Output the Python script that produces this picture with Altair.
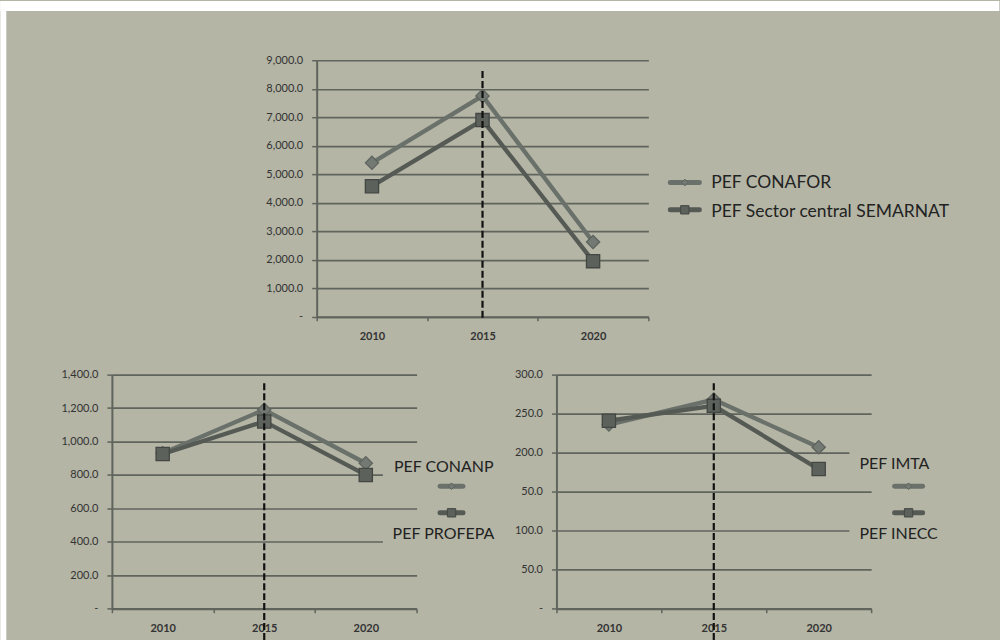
import altair as alt
import pandas as pd

# ---------------- data ----------------
years = ["2010", "2015", "2020"]

top_names = ["PEF CONAFOR", "PEF Sector central SEMARNAT"]
conafor = [5400, 7750, 2620]
semarnat = [4580, 6900, 1950]
top_ticks = [0, 1000, 2000, 3000, 4000, 5000, 6000, 7000, 8000, 9000]

left_names = ["PEF CONANP", "PEF PROFEPA"]
conanp = [930, 1190, 870]
profepa = [925, 1120, 800]
left_ticks = [0, 200, 400, 600, 800, 1000, 1200, 1400]

right_names = ["PEF IMTA", "PEF INECC"]
imta = [236, 268, 207]
inecc = [241, 260, 179]
right_ticks = [0, 50, 100, 150, 200, 250, 300]
right_tick_labels = ["-", "50.0", "100.0", "50.0", "200.0", "250.0", "300.0"]

marker_year = "2015"
dash_top = [8625, 1348, 289]
dash_bottom = [-88, -189, -40.6]

# ---------------- style ----------------
BG = "#b4b5a5"
GRID = "#5f645d"
LABEL = "#333333"
FONT = "Lato"
LINE_COLORS = ["#6a706a", "#555a55"]
FILL_COLORS = ["#737973", "#5c615c"]
STROKE_COLORS = ["#5e635e", "#434743"]
SHAPES = ["diamond", "square"]
SIZES = [175, 175]


def default_label_expr():
    return "datum.value == 0 ? '-' : format(datum.value, ',.1f')"


def list_label_expr(vals, labels):
    v = "[" + ",".join(str(x) for x in vals) + "]"
    l = "[" + ",".join("'" + s + "'" for s in labels) + "]"
    return f"{l}[indexof({v}, datum.value)]"


def make_panel(names, series_vals, ticks, label_expr, dtop, dbot, w, h, legend_layers):
    xscale = alt.Scale(type="band", paddingInner=0, paddingOuter=0, domain=years)
    yscale = alt.Scale(domain=[0, ticks[-1]], nice=False)
    xaxis = alt.Axis(
        title=None, tickBand="extent", labelAngle=0, labelFontWeight="bold",
        labelFontSize=11, labelFont=FONT, labelColor=LABEL, tickSize=4,
        tickWidth=1.5, tickColor=GRID, domainColor=GRID, domainWidth=2,
        grid=False, labelPadding=10,
    )
    yaxis = alt.Axis(
        title=None, values=ticks, labelExpr=label_expr, grid=True,
        gridColor=GRID, gridWidth=1.7, domainColor=GRID, domainWidth=2,
        tickColor=GRID, tickSize=5, tickWidth=1.5, labelFont=FONT,
        labelFontSize=11, labelColor=LABEL, labelPadding=9,
    )
    layers = []
    for i, (name, vals) in enumerate(zip(names, series_vals)):
        df = pd.DataFrame({"year": years, "value": vals, "series": name})
        layers.append(
            alt.Chart(df).mark_line(strokeWidth=4.3, color=LINE_COLORS[i]).encode(
                x=alt.X("year:O", scale=xscale, axis=xaxis, bandPosition=0.5),
                y=alt.Y("value:Q", scale=yscale, axis=yaxis),
            )
        )
    for i, (name, vals) in enumerate(zip(names, series_vals)):
        df = pd.DataFrame({"year": years, "value": vals, "series": name})
        layers.append(
            alt.Chart(df).mark_point(
                shape=SHAPES[i], filled=True, size=SIZES[i], fill=FILL_COLORS[i],
                stroke=STROKE_COLORS[i], strokeWidth=1.3, opacity=1,
            ).encode(
                x=alt.X("year:O", scale=xscale, axis=xaxis, bandPosition=0.5),
                y=alt.Y("value:Q", scale=yscale, axis=yaxis),
            )
        )
    ddf = pd.DataFrame({"year": [marker_year], "top": [dtop], "bottom": [dbot]})
    layers.append(
        alt.Chart(ddf).mark_rule(color="#111111", strokeWidth=2.2, strokeDash=[7, 3], clip=False).encode(
            x=alt.X("year:O", scale=xscale, axis=xaxis, bandPosition=0.5),
            y=alt.Y("top:Q", scale=yscale, axis=yaxis),
            y2="bottom:Q",
        )
    )
    layers.extend(legend_layers)
    return alt.layer(*layers).properties(width=w, height=h)


one = pd.DataFrame({"k": [0]})


def leg_symbol(i, x1, x2, yy, msize):
    cx = (x1 + x2) / 2
    return [
        alt.Chart(one).mark_rule(strokeWidth=5, strokeCap="round", color=LINE_COLORS[i]).encode(
            x=alt.value(x1), x2=alt.value(x2), y=alt.value(yy)
        ),
        alt.Chart(one).mark_point(
            shape=SHAPES[i], filled=True, size=msize, fill=FILL_COLORS[i],
            stroke=STROKE_COLORS[i], strokeWidth=1, opacity=1,
        ).encode(x=alt.value(cx), y=alt.value(yy)),
    ]


def leg_text(label, x, yy, size):
    return alt.Chart(one).mark_text(
        align="left", baseline="middle", font=FONT, fontSize=size, color="#222222"
    ).encode(x=alt.value(x), y=alt.value(yy), text=alt.value(label))


def mask(x1, x2, y1, y2):
    return alt.Chart(one).mark_rect(color=BG).encode(
        x=alt.value(x1), x2=alt.value(x2), y=alt.value(y1), y2=alt.value(y2)
    )


# ---- top panel legend
top_leg = (
    leg_symbol(0, 354, 383, 122.4, 45)
    + leg_symbol(1, 354, 383, 149.7, 70)
    + [leg_text(top_names[0], 395, 122.4, 17.5), leg_text(top_names[1], 395, 151.5, 17.5)]
)
# ---- bottom-left legend
left_leg = (
    [mask(271.3, 306, 80, 105), mask(271.3, 306, 148, 173)]
    + leg_symbol(0, 328.5, 351.5, 111.7, 45)
    + leg_symbol(1, 328.5, 351.5, 138.3, 70)
    + [leg_text(left_names[0], 282.3, 92, 16), leg_text(left_names[1], 281, 160, 16)]
)
# ---- bottom-right legend
right_leg = (
    [mask(293.3, 316, 75, 102), mask(293.3, 316, 147, 173)]
    + leg_symbol(0, 338.5, 366.5, 111.7, 45)
    + leg_symbol(1, 338.5, 366.5, 138.3, 70)
    + [leg_text(right_names[0], 303.3, 89, 16), leg_text(right_names[1], 303.3, 160, 16)]
)

p1 = make_panel(top_names, [conafor, semarnat], top_ticks, default_label_expr(),
                dash_top[0], dash_bottom[0], 332, 256.7, top_leg)
p2 = make_panel(left_names, [conanp, profepa], left_ticks, default_label_expr(),
                dash_top[1], dash_bottom[1], 305, 234.3, left_leg)
p3 = make_panel(right_names, [imta, inecc], right_ticks,
                list_label_expr(right_ticks, right_tick_labels),
                dash_top[2], dash_bottom[2], 315, 234.3, right_leg)

# spacer carrying the white page margin (top strip and left strip)
spacer = alt.layer(
    alt.Chart(one).mark_rect(color="white", clip=False).encode(
        x=alt.value(-111.7), x2=alt.value(888.3), y=alt.value(-59.3), y2=alt.value(-49.3)
    ),
    alt.Chart(one).mark_rect(color="white", clip=False).encode(
        x=alt.value(-111.7), x2=alt.value(-105.7), y=alt.value(-59.3), y2=alt.value(580.7)
    ),
).properties(width=205, height=256.7)

top_row = alt.hconcat(spacer, p1, spacing=0, bounds="flush")
bottom_row = alt.hconcat(p2, p3, spacing=140, bounds="flush")

# with flush bounds the nested row counts as zero height, so the spacing
# carries the top panel's height plus the gap between the panels
chart = alt.vconcat(top_row, bottom_row, spacing=256.7 + 58, bounds="flush").properties(
    background=BG, padding=0
).configure_view(strokeWidth=0)

chart.save("out.html", embed_options={"renderer": "svg", "actions": False})
